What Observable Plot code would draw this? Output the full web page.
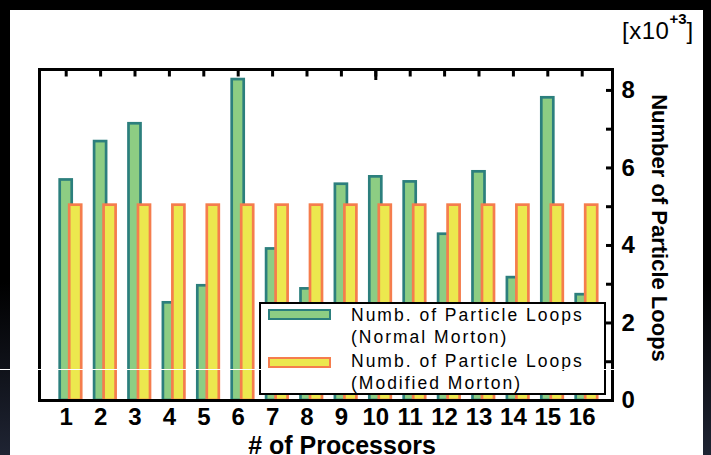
<!DOCTYPE html>
<html><head><meta charset="utf-8">
<script src="https://cdn.jsdelivr.net/npm/d3@7"></script>
<script src="https://cdn.jsdelivr.net/npm/@observablehq/plot@0.6"></script>
<style>
html,body{margin:0;padding:0;}
body{width:711px;height:455px;overflow:hidden;position:relative;background:linear-gradient(to bottom,#000 0%,#000 62%,#1f2433 100%);font-family:"Liberation Sans",Arial,sans-serif;color:#000;}
#panel{position:absolute;left:10px;top:10px;width:693px;height:445px;background:#fff;}
#chart{position:absolute;left:0;top:0;}
#unit{position:absolute;left:622px;top:18.5px;font-size:24px;line-height:23px;letter-spacing:0.5px;white-space:nowrap;}
#unit .sup{font-size:15px;font-weight:bold;letter-spacing:0;position:relative;top:-14.5px;}
#legend{position:absolute;left:259px;top:302px;width:347px;height:93px;box-sizing:border-box;border:2.6px solid #000;background:#fff;}
.sw{position:absolute;left:7.4px;width:63px;height:10.6px;box-sizing:border-box;border:2.7px solid;}
.lt{position:absolute;left:90px;font-size:17.5px;letter-spacing:2px;line-height:22px;white-space:nowrap;}
#artifact{position:absolute;left:0;top:369px;width:615px;height:1px;background:#fff;}
</style></head><body>
<div id="panel"></div>
<div id="chart"></div>
<div id="unit"></div>
<div id="legend"></div>
<div id="artifact"></div>
<script>
// ---- data ----
const processors = [1, 2, 3, 4, 5, 6, 7, 8, 9, 10, 11, 12, 13, 14, 15, 16];
const normalMorton = [5.69, 6.68, 7.14, 2.52, 2.96, 8.28, 3.91, 2.88, 5.58, 5.77, 5.64, 4.29, 5.90, 3.17, 7.81, 2.73];
const modifiedMorton = [5.04, 5.04, 5.04, 5.04, 5.04, 5.04, 5.04, 5.04, 5.04, 5.04, 5.04, 5.04, 5.04, 5.04, 5.04, 5.04];
const yTicks = [0, 1, 2, 3, 4, 5, 6, 7, 8];
const yTickLabels = [0, 2, 4, 6, 8];
const majorXTicks = [10];
const xLabel = "# of Processors";
const yLabel = "Number of Particle Loops";
const unitText = "[x10";
const unitSup = "+3";
const unitClose = "]";
const seriesLines = [
  ["Numb. of Particle Loops", "(Normal Morton)"],
  ["Numb. of Particle Loops", "(Modified Morton)"]
];
const colors = {
  normalFill: "#8dcd83", normalStroke: "#2c7f7d",
  modFill: "#ece84e", modStroke: "#f57d4d"
};

const data = processors.map((p, i) => ({p, normal: normalMorton[i], modified: modifiedMorton[i]}));

const font = "Liberation Sans, Arial, sans-serif";

const chart = Plot.plot({
  width: 711,
  height: 455,
  marginLeft: 39,
  marginRight: 99,
  marginTop: 69,
  marginBottom: 55,
  style: {background: "transparent", fontFamily: font, color: "#000", overflow: "visible"},
  x: {type: "band", domain: processors, paddingInner: 0.651, paddingOuter: 0.654, align: 0.46, round: false},
  y: {domain: [0, 8.54]},
  marks: [
    Plot.barY(data, {x: "p", y: "normal", fill: colors.normalFill, stroke: colors.normalStroke, strokeWidth: 2.7}),
    Plot.barY(data, {x: "p", y: "modified", dx: 9.5, fill: colors.modFill, stroke: colors.modStroke, strokeWidth: 2.7}),
    Plot.frame({stroke: "#000", strokeWidth: 3}),
    Plot.axisX({anchor: "top", tickSize: -6.5, strokeWidth: 3, tickFormat: () => "", label: null}),
    Plot.axisX(majorXTicks, {anchor: "top", tickSize: -10, strokeWidth: 3, tickFormat: () => "", label: null}),
    Plot.axisX({anchor: "bottom", tickSize: 0, tickPadding: 7, fontSize: 24, fontWeight: "bold", label: null}),
    Plot.axisY(yTicks, {anchor: "right", tickSize: -7, strokeWidth: 3, tickFormat: () => "", label: null}),
    Plot.axisY(yTickLabels, {anchor: "right", tickSize: 0, tickPadding: 9, fontSize: 24, fontWeight: "bold", label: null}),
    Plot.text([xLabel], {frameAnchor: "bottom", dx: 16, dy: 35.5, lineAnchor: "top", textAnchor: "middle", fontSize: 25, fontWeight: "bold", text: d => d}),
    Plot.text([yLabel], {frameAnchor: "right", rotate: 90, dx: 46.5, dy: -7, textAnchor: "middle", lineAnchor: "middle", fontSize: 22, fontWeight: "bold", text: d => d})
  ]
});
document.getElementById("chart").appendChild(chart);

// unit label
const unit = document.getElementById("unit");
unit.appendChild(document.createTextNode(unitText));
const sup = document.createElement("span"); sup.className = "sup"; sup.textContent = unitSup;
unit.appendChild(sup);
unit.appendChild(document.createTextNode(unitClose));

// legend
const legend = document.getElementById("legend");
const swFill = [colors.normalFill, colors.modFill];
const swStroke = [colors.normalStroke, colors.modStroke];
const swTop = [5.4, 53.4];
const txtTop = [-0.4, 45.6];
seriesLines.forEach((lines, i) => {
  const sw = document.createElement("div");
  sw.className = "sw";
  sw.style.top = swTop[i] + "px";
  sw.style.background = swFill[i];
  sw.style.borderColor = swStroke[i];
  legend.appendChild(sw);
  const t = document.createElement("div");
  t.className = "lt";
  t.style.top = txtTop[i] + "px";
  t.innerHTML = lines.join("<br>");
  legend.appendChild(t);
});
</script>
</body></html>
